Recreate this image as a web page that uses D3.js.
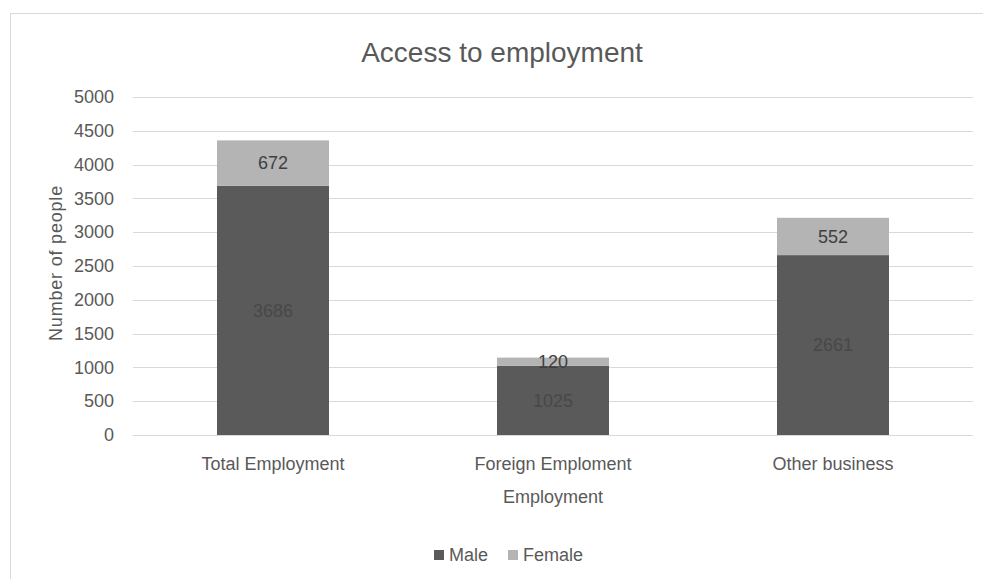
<!DOCTYPE html>
<html>
<head>
<meta charset="utf-8">
<script src="https://cdn.jsdelivr.net/npm/d3@7"></script>
<style>
  body { margin: 0; background: #fff; }
  text { font-family: "Liberation Sans", Arial, sans-serif; }
</style>
</head>
<body>
<div id="chart-area"></div>
<script>
// data
var categories = ["Total Employment", "Foreign Emploment", "Other business"];
var series = ["Male", "Female"];
var male = [3686, 1025, 2661];
var female = [672, 120, 552];
var yTicks = [0, 500, 1000, 1500, 2000, 2500, 3000, 3500, 4000, 4500, 5000];

var colors = { Male: "#5a5a5a", Female: "#b4b4b4" };

var W = 983, H = 579;
var margin = { left: 133, right: 10, top: 97, bottom: 144 };
var width = W - margin.left - margin.right;
var height = H - margin.top - margin.bottom;

var svg = d3.select("#chart-area").append("svg")
	.attr("width", W)
	.attr("height", H);

// chart border
svg.append("rect")
	.attr("x", 10.5)
	.attr("y", 13.5)
	.attr("width", 1000)
	.attr("height", 620)
	.attr("fill", "none")
	.attr("stroke", "#d9d9d9");

var g = svg.append("g")
	.attr("transform", "translate(" + margin.left + ", " + margin.top + ")");

// Scales
var x = d3.scaleBand()
	.domain(categories)
	.range([0, width])
	.paddingInner(0.6)
	.paddingOuter(0.3);

var y = d3.scaleLinear()
	.domain([0, 5000])
	.range([height, 0]);

// gridlines
g.append("g")
	.selectAll("line")
	.data(yTicks)
	.enter().append("line")
	.attr("x1", 0)
	.attr("x2", width)
	.attr("y1", (d) => Math.round(y(d)) + 0.5)
	.attr("y2", (d) => Math.round(y(d)) + 0.5)
	.attr("stroke", "#d9d9d9")
	.attr("stroke-width", 1);

// y axis
var yAxis = g.append("g")
	.call(d3.axisLeft(y).tickValues(yTicks).tickFormat(d3.format("d")).tickSize(0).tickPadding(19));
yAxis.select(".domain").remove();
yAxis.selectAll("text")
	.style("font-size", "18px")
	.attr("fill", "#595959");

// x axis
var xAxis = g.append("g")
	.attr("transform", "translate(0, " + height + ")")
	.call(d3.axisBottom(x).tickSize(0).tickPadding(22));
xAxis.select(".domain").remove();
xAxis.selectAll("text")
	.style("font-size", "18px")
	.attr("fill", "#595959");

// stacked data
var rows = categories.map((c, i) => ({ category: c, Male: male[i], Female: female[i] }));
var stacked = d3.stack().keys(series)(rows);

var layers = g.selectAll(".layer")
	.data(stacked)
	.enter().append("g")
	.attr("class", "layer")
	.attr("fill", (d) => colors[d.key]);

layers.selectAll("rect")
	.data((d) => d)
	.enter().append("rect")
	.attr("x", (d) => x(d.data.category))
	.attr("y", (d) => y(d[1]))
	.attr("width", x.bandwidth())
	.attr("height", (d) => y(d[0]) - y(d[1]));

// data labels
layers.selectAll("text.lbl")
	.data((d) => d.map((p) => ({ p: p, key: d.key })))
	.enter().append("text")
	.attr("class", "lbl")
	.attr("x", (d) => x(d.p.data.category) + x.bandwidth() / 2)
	.attr("y", (d) => (y(d.p[0]) + y(d.p[1])) / 2)
	.attr("dy", "0.35em")
	.attr("text-anchor", "middle")
	.style("font-size", "18px")
	.attr("fill", (d) => d.key == "Male" ? "#484848" : "#404040")
	.text((d) => d.p.data[d.key]);

// title
svg.append("text")
	.attr("x", 502)
	.attr("y", 62)
	.attr("text-anchor", "middle")
	.style("font-size", "28px")
	.attr("fill", "#595959")
	.text("Access to employment");

// x label
g.append("text")
	.attr("x", width / 2)
	.attr("y", height + 68)
	.attr("text-anchor", "middle")
	.style("font-size", "18px")
	.attr("fill", "#595959")
	.text("Employment");

// y label
g.append("text")
	.attr("transform", "rotate(-90)")
	.attr("x", -(263 - margin.top))
	.attr("y", 62 - margin.left)
	.attr("text-anchor", "middle")
	.style("font-size", "18px")
	.style("letter-spacing", "0.8px")
	.attr("fill", "#595959")
	.text("Number of people");

// legend
var legend = svg.append("g")
	.attr("transform", "translate(434, 555)");

var legendX = [0, 74];
series.forEach((s, i) => {
	var row = legend.append("g")
		.attr("transform", "translate(" + legendX[i] + ", 0)");
	row.append("rect")
		.attr("x", 0)
		.attr("y", -5)
		.attr("width", 10)
		.attr("height", 10)
		.attr("fill", colors[s]);
	row.append("text")
		.attr("x", 15)
		.attr("y", 0)
		.attr("dy", "0.35em")
		.style("font-size", "18px")
		.attr("fill", "#595959")
		.text(s);
});
</script>
</body>
</html>
